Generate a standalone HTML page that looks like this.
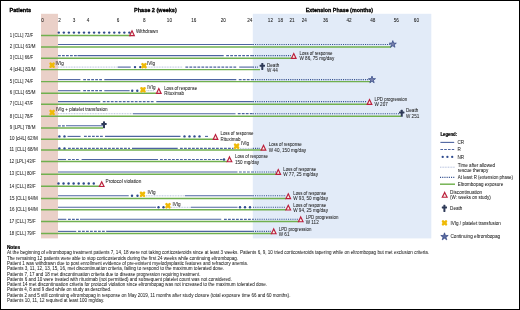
<!DOCTYPE html>
<html><head><meta charset="utf-8"><style>
html,body{margin:0;padding:0;background:#fff;}
svg{display:block;will-change:transform;}
text{font-family:"Liberation Sans",sans-serif;}
</style></head><body>
<svg width="520" height="310" viewBox="0 0 520 310">
<rect x="0" y="0" width="520" height="310" fill="#fff"/>
<rect x="41" y="13.8" width="17" height="224.6" fill="#ead0c8"/>
<rect x="252.8" y="13.8" width="178.5" height="224.6" fill="#e2ebf8"/>
<text x="9.50" y="11.88" font-size="5.7" font-weight="bold" fill="#000" stroke="#000" stroke-width="0.3" textLength="21.6" lengthAdjust="spacingAndGlyphs">Patients</text>
<text x="134.00" y="11.88" font-size="5.7" font-weight="bold" fill="#000" stroke="#000" stroke-width="0.3" textLength="42.8" lengthAdjust="spacingAndGlyphs">Phase 2 (weeks)</text>
<text x="305.80" y="12.28" font-size="5.7" font-weight="bold" fill="#000" stroke="#000" stroke-width="0.3" textLength="67.2" lengthAdjust="spacingAndGlyphs">Extension Phase (months)</text>
<text x="42.50" y="21.74" font-size="4.6" text-anchor="middle" fill="#1c1c1c" stroke="#1c1c1c" stroke-width="0.06">0</text>
<text x="59.60" y="21.74" font-size="4.6" text-anchor="middle" fill="#1c1c1c" stroke="#1c1c1c" stroke-width="0.06">2</text>
<text x="74.00" y="21.74" font-size="4.6" text-anchor="middle" fill="#1c1c1c" stroke="#1c1c1c" stroke-width="0.06">3</text>
<text x="88.00" y="21.74" font-size="4.6" text-anchor="middle" fill="#1c1c1c" stroke="#1c1c1c" stroke-width="0.06">4</text>
<text x="118.00" y="21.74" font-size="4.6" text-anchor="middle" fill="#1c1c1c" stroke="#1c1c1c" stroke-width="0.06">6</text>
<text x="144.40" y="21.74" font-size="4.6" text-anchor="middle" fill="#1c1c1c" stroke="#1c1c1c" stroke-width="0.06">8</text>
<text x="169.40" y="21.74" font-size="4.6" text-anchor="middle" fill="#1c1c1c" stroke="#1c1c1c" stroke-width="0.06">10</text>
<text x="193.80" y="21.74" font-size="4.6" text-anchor="middle" fill="#1c1c1c" stroke="#1c1c1c" stroke-width="0.06">16</text>
<text x="223.30" y="21.74" font-size="4.6" text-anchor="middle" fill="#1c1c1c" stroke="#1c1c1c" stroke-width="0.06">20</text>
<text x="249.80" y="21.74" font-size="4.6" text-anchor="middle" fill="#1c1c1c" stroke="#1c1c1c" stroke-width="0.06">24</text>
<text x="270.40" y="21.74" font-size="4.6" text-anchor="middle" fill="#1c1c1c" stroke="#1c1c1c" stroke-width="0.06">12</text>
<text x="280.40" y="21.74" font-size="4.6" text-anchor="middle" fill="#1c1c1c" stroke="#1c1c1c" stroke-width="0.06">18</text>
<text x="292.10" y="21.74" font-size="4.6" text-anchor="middle" fill="#1c1c1c" stroke="#1c1c1c" stroke-width="0.06">21</text>
<text x="304.30" y="21.74" font-size="4.6" text-anchor="middle" fill="#1c1c1c" stroke="#1c1c1c" stroke-width="0.06">24</text>
<text x="325.60" y="21.74" font-size="4.6" text-anchor="middle" fill="#1c1c1c" stroke="#1c1c1c" stroke-width="0.06">36</text>
<text x="349.00" y="21.74" font-size="4.6" text-anchor="middle" fill="#1c1c1c" stroke="#1c1c1c" stroke-width="0.06">42</text>
<text x="372.80" y="21.74" font-size="4.6" text-anchor="middle" fill="#1c1c1c" stroke="#1c1c1c" stroke-width="0.06">48</text>
<text x="396.20" y="21.74" font-size="4.6" text-anchor="middle" fill="#1c1c1c" stroke="#1c1c1c" stroke-width="0.06">56</text>
<text x="416.40" y="21.74" font-size="4.6" text-anchor="middle" fill="#1c1c1c" stroke="#1c1c1c" stroke-width="0.06">60</text>
<text x="9.80" y="36.68" font-size="4.45" fill="#1c1c1c" stroke="#1c1c1c" stroke-width="0.04" textLength="23.4" lengthAdjust="spacingAndGlyphs">1 [CLL] 72/F</text>
<text x="9.80" y="48.28" font-size="4.45" fill="#1c1c1c" stroke="#1c1c1c" stroke-width="0.04" textLength="25.6" lengthAdjust="spacingAndGlyphs">2 [CLL] 63/M</text>
<text x="9.80" y="59.48" font-size="4.45" fill="#1c1c1c" stroke="#1c1c1c" stroke-width="0.04" textLength="23.4" lengthAdjust="spacingAndGlyphs">3 [CLL] 66/F</text>
<text x="9.80" y="70.88" font-size="4.45" fill="#1c1c1c" stroke="#1c1c1c" stroke-width="0.04" textLength="25.6" lengthAdjust="spacingAndGlyphs">4 [cHL] 83/M</text>
<text x="9.80" y="82.88" font-size="4.45" fill="#1c1c1c" stroke="#1c1c1c" stroke-width="0.04" textLength="23.4" lengthAdjust="spacingAndGlyphs">5 [CLL] 74/F</text>
<text x="9.80" y="94.48" font-size="4.45" fill="#1c1c1c" stroke="#1c1c1c" stroke-width="0.04" textLength="25.6" lengthAdjust="spacingAndGlyphs">6 [CLL] 65/M</text>
<text x="9.80" y="105.48" font-size="4.45" fill="#1c1c1c" stroke="#1c1c1c" stroke-width="0.04" textLength="23.4" lengthAdjust="spacingAndGlyphs">7 [CLL] 47/F</text>
<text x="9.80" y="117.58" font-size="4.45" fill="#1c1c1c" stroke="#1c1c1c" stroke-width="0.04" textLength="23.4" lengthAdjust="spacingAndGlyphs">8 [CLL] 78/F</text>
<text x="9.80" y="129.18" font-size="4.45" fill="#1c1c1c" stroke="#1c1c1c" stroke-width="0.04" textLength="25.6" lengthAdjust="spacingAndGlyphs">9 [LPL] 78/M</text>
<text x="9.40" y="140.48" font-size="4.45" fill="#1c1c1c" stroke="#1c1c1c" stroke-width="0.04" textLength="28.3" lengthAdjust="spacingAndGlyphs">10 [cHL] 62/M</text>
<text x="9.40" y="151.18" font-size="4.45" fill="#1c1c1c" stroke="#1c1c1c" stroke-width="0.04" textLength="28.3" lengthAdjust="spacingAndGlyphs">11 [CLL] 68/M</text>
<text x="9.40" y="162.78" font-size="4.45" fill="#1c1c1c" stroke="#1c1c1c" stroke-width="0.04" textLength="26.2" lengthAdjust="spacingAndGlyphs">12 [LPL] 43/F</text>
<text x="9.40" y="175.48" font-size="4.45" fill="#1c1c1c" stroke="#1c1c1c" stroke-width="0.04" textLength="26.2" lengthAdjust="spacingAndGlyphs">13 [CLL] 80/F</text>
<text x="9.40" y="187.58" font-size="4.45" fill="#1c1c1c" stroke="#1c1c1c" stroke-width="0.04" textLength="26.2" lengthAdjust="spacingAndGlyphs">14 [CLL] 83/F</text>
<text x="9.40" y="199.68" font-size="4.45" fill="#1c1c1c" stroke="#1c1c1c" stroke-width="0.04" textLength="28.3" lengthAdjust="spacingAndGlyphs">15 [CLL] 64/M</text>
<text x="9.40" y="211.08" font-size="4.45" fill="#1c1c1c" stroke="#1c1c1c" stroke-width="0.04" textLength="28.3" lengthAdjust="spacingAndGlyphs">16 [CLL] 64/M</text>
<text x="9.40" y="222.78" font-size="4.45" fill="#1c1c1c" stroke="#1c1c1c" stroke-width="0.04" textLength="26.2" lengthAdjust="spacingAndGlyphs">17 [CLL] 75/F</text>
<text x="9.40" y="234.78" font-size="4.45" fill="#1c1c1c" stroke="#1c1c1c" stroke-width="0.04" textLength="26.2" lengthAdjust="spacingAndGlyphs">18 [CLL] 79/F</text>
<line x1="41" y1="35.4" x2="131" y2="35.4" stroke="#70b04e" stroke-width="1.45"/>
<circle cx="58.80" cy="32.60" r="1.2" fill="#2e4a8e"/>
<circle cx="63.84" cy="32.60" r="1.2" fill="#2e4a8e"/>
<circle cx="68.88" cy="32.60" r="1.2" fill="#2e4a8e"/>
<circle cx="73.92" cy="32.60" r="1.2" fill="#2e4a8e"/>
<circle cx="78.96" cy="32.60" r="1.2" fill="#2e4a8e"/>
<circle cx="84.00" cy="32.60" r="1.2" fill="#2e4a8e"/>
<circle cx="89.04" cy="32.60" r="1.2" fill="#2e4a8e"/>
<circle cx="94.08" cy="32.60" r="1.2" fill="#2e4a8e"/>
<circle cx="99.12" cy="32.60" r="1.2" fill="#2e4a8e"/>
<circle cx="104.16" cy="32.60" r="1.2" fill="#2e4a8e"/>
<circle cx="109.20" cy="32.60" r="1.2" fill="#2e4a8e"/>
<circle cx="114.24" cy="32.60" r="1.2" fill="#2e4a8e"/>
<circle cx="119.28" cy="32.60" r="1.2" fill="#2e4a8e"/>
<circle cx="124.32" cy="32.60" r="1.2" fill="#2e4a8e"/>
<circle cx="129.36" cy="32.60" r="1.2" fill="#2e4a8e"/>
<path d="M132.00 30.82 L134.33 35.62 L129.67 35.62 Z" fill="#f7f1e6" stroke="#bb1f3d" stroke-width="1.15" stroke-linejoin="miter" stroke-miterlimit="10"/>
<text x="135.90" y="33.34" font-size="4.6" fill="#1c1c1c" stroke="#1c1c1c" stroke-width="0.04" textLength="22.2" lengthAdjust="spacingAndGlyphs">Withdrawn</text>
<line x1="41" y1="47" x2="391" y2="47" stroke="#70b04e" stroke-width="1.45"/>
<line x1="58" y1="44.50" x2="252.8" y2="44.50" stroke="#4d64a0" stroke-width="1.1"/>
<line x1="252.8" y1="44.50" x2="390" y2="44.50" stroke="#34508f" stroke-width="1.1" stroke-dasharray="1.1 1.1"/>
<polygon points="392.80,40.60 393.67,43.10 396.32,43.16 394.21,44.76 394.97,47.29 392.80,45.78 390.63,47.29 391.39,44.76 389.28,43.16 391.93,43.10" fill="#7680ac" stroke="#2f4482" stroke-width="0.7" stroke-linejoin="miter"/>
<line x1="41" y1="58.2" x2="292" y2="58.2" stroke="#70b04e" stroke-width="1.45"/>
<line x1="58" y1="55.60" x2="77.5" y2="55.60" stroke="#4d64a0" stroke-width="1.2" stroke-dasharray="2.8 1.2"/>
<line x1="77.5" y1="55.60" x2="223.7" y2="55.60" stroke="#4d64a0" stroke-width="1.1"/>
<line x1="226.2" y1="55.60" x2="252.8" y2="55.60" stroke="#4d64a0" stroke-width="1.2" stroke-dasharray="2.8 1.2"/>
<line x1="252.8" y1="55.60" x2="291" y2="55.60" stroke="#34508f" stroke-width="1.1" stroke-dasharray="1.1 1.1"/>
<path d="M293.75 53.62 L296.08 58.42 L291.42 58.42 Z" fill="#f7f1e6" stroke="#bb1f3d" stroke-width="1.15" stroke-linejoin="miter" stroke-miterlimit="10"/>
<text x="299.50" y="54.84" font-size="4.6" fill="#1c1c1c" stroke="#1c1c1c" stroke-width="0.04" textLength="33.0" lengthAdjust="spacingAndGlyphs">Loss of response</text>
<text x="299.50" y="60.09" font-size="4.6" fill="#1c1c1c" stroke="#1c1c1c" stroke-width="0.04">W 86, 75 mg/day</text>
<line x1="41" y1="69.6" x2="260" y2="69.6" stroke="#70b04e" stroke-width="1.45"/>
<line x1="58" y1="67.10" x2="117.8" y2="67.10" stroke="#b5c0dd" stroke-width="1.0" stroke-dasharray="1 0.6"/>
<line x1="117.8" y1="67.10" x2="130.8" y2="67.10" stroke="#4d64a0" stroke-width="1.1"/>
<circle cx="135.00" cy="67.10" r="1.2" fill="#2e4a8e"/>
<circle cx="140.30" cy="67.10" r="1.2" fill="#2e4a8e"/>
<line x1="146" y1="67.10" x2="182.5" y2="67.10" stroke="#b5c0dd" stroke-width="1.0" stroke-dasharray="1 0.6"/>
<line x1="185.4" y1="67.10" x2="237.3" y2="67.10" stroke="#4d64a0" stroke-width="1.2" stroke-dasharray="2.8 1.2"/>
<line x1="239.2" y1="67.10" x2="252.8" y2="67.10" stroke="#4d64a0" stroke-width="1.1"/>
<line x1="252.8" y1="67.10" x2="258" y2="67.10" stroke="#34508f" stroke-width="1.1" stroke-dasharray="1.1 1.1"/>
<g stroke="#efba08" stroke-width="2.5" stroke-linecap="round"><line x1="50.55" y1="63.65" x2="53.65" y2="66.75"/><line x1="50.55" y1="66.75" x2="53.65" y2="63.65"/></g>
<text x="55.60" y="65.14" font-size="4.6" fill="#1c1c1c" stroke="#1c1c1c" stroke-width="0.04">IVIg</text>
<g stroke="#efba08" stroke-width="2.5" stroke-linecap="round"><line x1="142.45" y1="64.15" x2="145.55" y2="67.25"/><line x1="142.45" y1="67.25" x2="145.55" y2="64.15"/></g>
<text x="147.00" y="65.14" font-size="4.6" fill="#1c1c1c" stroke="#1c1c1c" stroke-width="0.04">IVIg</text>
<g fill="#2e3a58"><rect x="261.30" y="63.00" width="2.0" height="7.00" rx="0.4"/><rect x="259.60" y="64.68" width="5.40" height="2.0" rx="0.4"/></g>
<text x="267.00" y="66.64" font-size="4.6" fill="#1c1c1c" stroke="#1c1c1c" stroke-width="0.04">Death</text>
<text x="267.00" y="71.64" font-size="4.6" fill="#1c1c1c" stroke="#1c1c1c" stroke-width="0.04">W 44</text>
<line x1="41" y1="81.6" x2="371" y2="81.6" stroke="#70b04e" stroke-width="1.45"/>
<line x1="58" y1="79.60" x2="80.4" y2="79.60" stroke="#4d64a0" stroke-width="1.1"/>
<line x1="83.2" y1="79.60" x2="102.6" y2="79.60" stroke="#4d64a0" stroke-width="1.2" stroke-dasharray="2.8 1.2"/>
<line x1="104.3" y1="79.60" x2="236.3" y2="79.60" stroke="#4d64a0" stroke-width="1.1"/>
<line x1="238.8" y1="79.60" x2="252.8" y2="79.60" stroke="#4d64a0" stroke-width="1.2" stroke-dasharray="2.8 1.2"/>
<line x1="252.8" y1="79.60" x2="369" y2="79.60" stroke="#34508f" stroke-width="1.1" stroke-dasharray="1.1 1.1"/>
<polygon points="372.00,76.10 372.87,78.60 375.52,78.66 373.41,80.26 374.17,82.79 372.00,81.28 369.83,82.79 370.59,80.26 368.48,78.66 371.13,78.60" fill="#7680ac" stroke="#2f4482" stroke-width="0.7" stroke-linejoin="miter"/>
<line x1="41" y1="93.2" x2="156" y2="93.2" stroke="#70b04e" stroke-width="1.45"/>
<line x1="58" y1="90.70" x2="80.4" y2="90.70" stroke="#4d64a0" stroke-width="1.1"/>
<line x1="83.2" y1="90.70" x2="102.6" y2="90.70" stroke="#4d64a0" stroke-width="1.2" stroke-dasharray="2.8 1.2"/>
<line x1="104.3" y1="90.70" x2="129.6" y2="90.70" stroke="#4d64a0" stroke-width="1.1"/>
<circle cx="132.20" cy="90.70" r="1.2" fill="#2e4a8e"/>
<circle cx="137.30" cy="90.70" r="1.2" fill="#2e4a8e"/>
<line x1="146.5" y1="90.70" x2="154.2" y2="90.70" stroke="#b5c0dd" stroke-width="1.0" stroke-dasharray="1 0.6"/>
<g stroke="#efba08" stroke-width="2.5" stroke-linecap="round"><line x1="141.45" y1="88.25" x2="144.55" y2="91.35"/><line x1="141.45" y1="91.35" x2="144.55" y2="88.25"/></g>
<text x="147.30" y="88.84" font-size="4.6" fill="#1c1c1c" stroke="#1c1c1c" stroke-width="0.04">IVIg</text>
<path d="M158.80 88.62 L161.13 93.42 L156.47 93.42 Z" fill="#f7f1e6" stroke="#bb1f3d" stroke-width="1.15" stroke-linejoin="miter" stroke-miterlimit="10"/>
<text x="164.20" y="89.64" font-size="4.6" fill="#1c1c1c" stroke="#1c1c1c" stroke-width="0.04" textLength="33.0" lengthAdjust="spacingAndGlyphs">Loss of response</text>
<text x="164.20" y="95.04" font-size="4.6" fill="#1c1c1c" stroke="#1c1c1c" stroke-width="0.04" textLength="19.9" lengthAdjust="spacingAndGlyphs">Rituximab</text>
<line x1="41" y1="104.2" x2="368" y2="104.2" stroke="#70b04e" stroke-width="1.45"/>
<line x1="58" y1="101.60" x2="100.3" y2="101.60" stroke="#4d64a0" stroke-width="1.1"/>
<line x1="102.8" y1="101.60" x2="154.8" y2="101.60" stroke="#4d64a0" stroke-width="1.2" stroke-dasharray="2.8 1.2"/>
<line x1="156.3" y1="101.60" x2="252.8" y2="101.60" stroke="#4d64a0" stroke-width="1.1"/>
<line x1="252.8" y1="101.60" x2="367" y2="101.60" stroke="#34508f" stroke-width="1.1" stroke-dasharray="1.1 1.1"/>
<path d="M369.50 99.62 L371.83 104.42 L367.17 104.42 Z" fill="#f7f1e6" stroke="#bb1f3d" stroke-width="1.15" stroke-linejoin="miter" stroke-miterlimit="10"/>
<text x="374.50" y="101.34" font-size="4.6" fill="#1c1c1c" stroke="#1c1c1c" stroke-width="0.04" textLength="32.6" lengthAdjust="spacingAndGlyphs">LPD progression</text>
<text x="374.50" y="106.34" font-size="4.6" fill="#1c1c1c" stroke="#1c1c1c" stroke-width="0.04">W 207</text>
<line x1="41" y1="116.3" x2="401" y2="116.3" stroke="#70b04e" stroke-width="1.45"/>
<line x1="58" y1="113.70" x2="132.5" y2="113.70" stroke="#b5c0dd" stroke-width="1.0" stroke-dasharray="1 0.6"/>
<line x1="133" y1="113.70" x2="235.5" y2="113.70" stroke="#4d64a0" stroke-width="1.1"/>
<line x1="237.8" y1="113.70" x2="252.8" y2="113.70" stroke="#4d64a0" stroke-width="1.2" stroke-dasharray="2.8 1.2"/>
<line x1="252.8" y1="113.70" x2="399" y2="113.70" stroke="#34508f" stroke-width="1.1" stroke-dasharray="1.1 1.1"/>
<g stroke="#efba08" stroke-width="2.5" stroke-linecap="round"><line x1="50.55" y1="110.95" x2="53.65" y2="114.05"/><line x1="50.55" y1="114.05" x2="53.65" y2="110.95"/></g>
<text x="55.90" y="111.34" font-size="4.6" fill="#1c1c1c" stroke="#1c1c1c" stroke-width="0.04" textLength="51.7" lengthAdjust="spacingAndGlyphs">IVIg + platelet transfusion</text>
<g fill="#2e3a58"><rect x="400.75" y="109.80" width="2.0" height="7.00" rx="0.4"/><rect x="399.05" y="111.48" width="5.40" height="2.0" rx="0.4"/></g>
<text x="406.00" y="112.34" font-size="4.6" fill="#1c1c1c" stroke="#1c1c1c" stroke-width="0.04">Death</text>
<text x="406.00" y="117.84" font-size="4.6" fill="#1c1c1c" stroke="#1c1c1c" stroke-width="0.04">W 251</text>
<line x1="41" y1="127.9" x2="103" y2="127.9" stroke="#70b04e" stroke-width="1.45"/>
<line x1="58" y1="125.80" x2="65.8" y2="125.80" stroke="#4d64a0" stroke-width="1.2" stroke-dasharray="2.8 1.2"/>
<line x1="66" y1="125.80" x2="103" y2="125.80" stroke="#4d64a0" stroke-width="1.1"/>
<g fill="#2e3a58"><rect x="103.00" y="121.30" width="2.0" height="6.90" rx="0.4"/><rect x="101.30" y="122.96" width="5.40" height="2.0" rx="0.4"/></g>
<line x1="41" y1="139.2" x2="213" y2="139.2" stroke="#70b04e" stroke-width="1.45"/>
<circle cx="59.40" cy="136.40" r="1.2" fill="#2e4a8e"/>
<circle cx="64.50" cy="136.40" r="1.2" fill="#2e4a8e"/>
<line x1="67.5" y1="136.40" x2="80.6" y2="136.40" stroke="#4d64a0" stroke-width="1.1"/>
<line x1="84" y1="136.40" x2="103" y2="136.40" stroke="#4d64a0" stroke-width="1.2" stroke-dasharray="2.8 1.2"/>
<line x1="105" y1="136.40" x2="180.5" y2="136.40" stroke="#4d64a0" stroke-width="1.1"/>
<circle cx="184.50" cy="136.40" r="1.2" fill="#2e4a8e"/>
<circle cx="189.50" cy="136.40" r="1.2" fill="#2e4a8e"/>
<circle cx="194.50" cy="136.40" r="1.2" fill="#2e4a8e"/>
<circle cx="199.50" cy="136.40" r="1.2" fill="#2e4a8e"/>
<line x1="205" y1="136.40" x2="208" y2="136.40" stroke="#4d64a0" stroke-width="1.1"/>
<path d="M215.50 134.62 L217.83 139.43 L213.17 139.43 Z" fill="#f7f1e6" stroke="#bb1f3d" stroke-width="1.15" stroke-linejoin="miter" stroke-miterlimit="10"/>
<text x="220.50" y="135.09" font-size="4.6" fill="#1c1c1c" stroke="#1c1c1c" stroke-width="0.04" textLength="33.0" lengthAdjust="spacingAndGlyphs">Loss of response</text>
<text x="220.50" y="140.59" font-size="4.6" fill="#1c1c1c" stroke="#1c1c1c" stroke-width="0.04" textLength="19.9" lengthAdjust="spacingAndGlyphs">Rituximab</text>
<line x1="41" y1="149.9" x2="262" y2="149.9" stroke="#70b04e" stroke-width="1.45"/>
<circle cx="59.40" cy="148.40" r="1.2" fill="#2e4a8e"/>
<circle cx="64.50" cy="148.40" r="1.2" fill="#2e4a8e"/>
<line x1="68" y1="148.40" x2="130" y2="148.40" stroke="#4d64a0" stroke-width="1.2" stroke-dasharray="2.8 1.2"/>
<line x1="132" y1="148.40" x2="177.7" y2="148.40" stroke="#4d64a0" stroke-width="1.1"/>
<line x1="180" y1="148.40" x2="233.5" y2="148.40" stroke="#4d64a0" stroke-width="1.2" stroke-dasharray="2.8 1.2"/>
<line x1="240" y1="148.40" x2="252.8" y2="148.40" stroke="#b5c0dd" stroke-width="1.0" stroke-dasharray="1 0.6"/>
<line x1="252.8" y1="148.40" x2="260" y2="148.40" stroke="#34508f" stroke-width="1.1" stroke-dasharray="1.1 1.1"/>
<g stroke="#efba08" stroke-width="2.5" stroke-linecap="round"><line x1="235.05" y1="144.65" x2="238.15" y2="147.75"/><line x1="235.05" y1="147.75" x2="238.15" y2="144.65"/></g>
<text x="241.00" y="145.09" font-size="4.6" fill="#1c1c1c" stroke="#1c1c1c" stroke-width="0.04">IVIg</text>
<path d="M263.50 145.32 L265.83 150.13 L261.17 150.13 Z" fill="#f7f1e6" stroke="#bb1f3d" stroke-width="1.15" stroke-linejoin="miter" stroke-miterlimit="10"/>
<text x="268.75" y="146.34" font-size="4.6" fill="#1c1c1c" stroke="#1c1c1c" stroke-width="0.04" textLength="33.0" lengthAdjust="spacingAndGlyphs">Loss of response</text>
<text x="268.75" y="151.84" font-size="4.6" fill="#1c1c1c" stroke="#1c1c1c" stroke-width="0.04">W 40, 150 mg/day</text>
<line x1="41" y1="161.5" x2="227" y2="161.5" stroke="#70b04e" stroke-width="1.45"/>
<line x1="58" y1="159.50" x2="66" y2="159.50" stroke="#4d64a0" stroke-width="1.1"/>
<line x1="68" y1="159.50" x2="80" y2="159.50" stroke="#4d64a0" stroke-width="1.2" stroke-dasharray="2.8 1.2"/>
<line x1="81.6" y1="159.50" x2="158" y2="159.50" stroke="#4d64a0" stroke-width="1.1"/>
<line x1="160" y1="159.50" x2="222.5" y2="159.50" stroke="#4d64a0" stroke-width="1.2" stroke-dasharray="2.8 1.2"/>
<circle cx="224.00" cy="159.50" r="1.2" fill="#2e4a8e"/>
<path d="M229.50 156.92 L231.83 161.73 L227.17 161.73 Z" fill="#f7f1e6" stroke="#bb1f3d" stroke-width="1.15" stroke-linejoin="miter" stroke-miterlimit="10"/>
<text x="235.00" y="158.09" font-size="4.6" fill="#1c1c1c" stroke="#1c1c1c" stroke-width="0.04" textLength="33.0" lengthAdjust="spacingAndGlyphs">Loss of response</text>
<text x="235.00" y="163.59" font-size="4.6" fill="#1c1c1c" stroke="#1c1c1c" stroke-width="0.04">150 mg/day</text>
<line x1="41" y1="174.2" x2="277" y2="174.2" stroke="#70b04e" stroke-width="1.45"/>
<line x1="58" y1="172.00" x2="237.5" y2="172.00" stroke="#4d64a0" stroke-width="1.1"/>
<line x1="239" y1="172.00" x2="252.8" y2="172.00" stroke="#4d64a0" stroke-width="1.2" stroke-dasharray="2.8 1.2"/>
<line x1="252.8" y1="172.00" x2="276" y2="172.00" stroke="#34508f" stroke-width="1.1" stroke-dasharray="1.1 1.1"/>
<path d="M278.25 169.62 L280.58 174.43 L275.92 174.43 Z" fill="#f7f1e6" stroke="#bb1f3d" stroke-width="1.15" stroke-linejoin="miter" stroke-miterlimit="10"/>
<text x="283.25" y="171.09" font-size="4.6" fill="#1c1c1c" stroke="#1c1c1c" stroke-width="0.04" textLength="33.0" lengthAdjust="spacingAndGlyphs">Loss of response</text>
<text x="283.25" y="176.34" font-size="4.6" fill="#1c1c1c" stroke="#1c1c1c" stroke-width="0.04">W 77, 25 mg/day</text>
<line x1="41" y1="186.3" x2="99.1" y2="186.3" stroke="#70b04e" stroke-width="1.45"/>
<circle cx="58.50" cy="183.50" r="1.2" fill="#2e4a8e"/>
<circle cx="63.54" cy="183.50" r="1.2" fill="#2e4a8e"/>
<circle cx="68.58" cy="183.50" r="1.2" fill="#2e4a8e"/>
<circle cx="73.62" cy="183.50" r="1.2" fill="#2e4a8e"/>
<circle cx="78.66" cy="183.50" r="1.2" fill="#2e4a8e"/>
<circle cx="83.70" cy="183.50" r="1.2" fill="#2e4a8e"/>
<circle cx="88.74" cy="183.50" r="1.2" fill="#2e4a8e"/>
<circle cx="93.78" cy="183.50" r="1.2" fill="#2e4a8e"/>
<path d="M101.70 181.72 L104.03 186.53 L99.37 186.53 Z" fill="#f7f1e6" stroke="#bb1f3d" stroke-width="1.15" stroke-linejoin="miter" stroke-miterlimit="10"/>
<text x="105.50" y="183.44" font-size="4.6" fill="#1c1c1c" stroke="#1c1c1c" stroke-width="0.04" textLength="35.8" lengthAdjust="spacingAndGlyphs">Protocol violation</text>
<line x1="41" y1="198.4" x2="286" y2="198.4" stroke="#70b04e" stroke-width="1.45"/>
<line x1="58" y1="195.80" x2="128.75" y2="195.80" stroke="#4d64a0" stroke-width="1.1"/>
<circle cx="132.00" cy="195.80" r="1.2" fill="#2e4a8e"/>
<circle cx="137.50" cy="195.80" r="1.2" fill="#2e4a8e"/>
<g stroke="#efba08" stroke-width="2.5" stroke-linecap="round"><line x1="140.95" y1="192.75" x2="144.05" y2="195.85"/><line x1="140.95" y1="195.85" x2="144.05" y2="192.75"/></g>
<text x="147.50" y="193.84" font-size="4.6" fill="#1c1c1c" stroke="#1c1c1c" stroke-width="0.04">IVIg</text>
<line x1="146" y1="195.80" x2="185" y2="195.80" stroke="#b5c0dd" stroke-width="1.0" stroke-dasharray="1 0.6"/>
<line x1="185" y1="195.80" x2="252.8" y2="195.80" stroke="#4d64a0" stroke-width="1.1"/>
<line x1="252.8" y1="195.80" x2="286" y2="195.80" stroke="#34508f" stroke-width="1.1" stroke-dasharray="1.1 1.1"/>
<path d="M288.25 193.82 L290.58 198.63 L285.92 198.63 Z" fill="#f7f1e6" stroke="#bb1f3d" stroke-width="1.15" stroke-linejoin="miter" stroke-miterlimit="10"/>
<text x="293.25" y="194.84" font-size="4.6" fill="#1c1c1c" stroke="#1c1c1c" stroke-width="0.04" textLength="33.0" lengthAdjust="spacingAndGlyphs">Loss of response</text>
<text x="293.25" y="200.09" font-size="4.6" fill="#1c1c1c" stroke="#1c1c1c" stroke-width="0.04">W 93, 50 mg/day</text>
<line x1="41" y1="209.8" x2="286" y2="209.8" stroke="#70b04e" stroke-width="1.45"/>
<line x1="58" y1="207.30" x2="156" y2="207.30" stroke="#4d64a0" stroke-width="1.1"/>
<circle cx="158.50" cy="207.30" r="1.2" fill="#2e4a8e"/>
<circle cx="163.50" cy="207.30" r="1.2" fill="#2e4a8e"/>
<g stroke="#efba08" stroke-width="2.5" stroke-linecap="round"><line x1="166.45" y1="204.20" x2="169.55" y2="207.30"/><line x1="166.45" y1="207.30" x2="169.55" y2="204.20"/></g>
<text x="172.50" y="205.59" font-size="4.6" fill="#1c1c1c" stroke="#1c1c1c" stroke-width="0.04">IVIg</text>
<line x1="171" y1="207.30" x2="191" y2="207.30" stroke="#b5c0dd" stroke-width="1.0" stroke-dasharray="1 0.6"/>
<line x1="191" y1="207.30" x2="237.5" y2="207.30" stroke="#4d64a0" stroke-width="1.1"/>
<circle cx="240.00" cy="207.30" r="1.2" fill="#2e4a8e"/>
<circle cx="245.00" cy="207.30" r="1.2" fill="#2e4a8e"/>
<circle cx="250.00" cy="207.30" r="1.2" fill="#2e4a8e"/>
<line x1="253" y1="207.30" x2="286" y2="207.30" stroke="#34508f" stroke-width="1.1" stroke-dasharray="1.1 1.1"/>
<path d="M288.25 205.22 L290.58 210.03 L285.92 210.03 Z" fill="#f7f1e6" stroke="#bb1f3d" stroke-width="1.15" stroke-linejoin="miter" stroke-miterlimit="10"/>
<text x="293.25" y="206.84" font-size="4.6" fill="#1c1c1c" stroke="#1c1c1c" stroke-width="0.04" textLength="33.0" lengthAdjust="spacingAndGlyphs">Loss of response</text>
<text x="293.25" y="211.84" font-size="4.6" fill="#1c1c1c" stroke="#1c1c1c" stroke-width="0.04">W 94, 25 mg/day</text>
<line x1="41" y1="221.5" x2="299" y2="221.5" stroke="#70b04e" stroke-width="1.45"/>
<line x1="58" y1="219.30" x2="66.25" y2="219.30" stroke="#4d64a0" stroke-width="1.1"/>
<line x1="68" y1="219.30" x2="79.5" y2="219.30" stroke="#4d64a0" stroke-width="1.2" stroke-dasharray="2.8 1.2"/>
<line x1="80" y1="219.30" x2="221.25" y2="219.30" stroke="#4d64a0" stroke-width="1.1"/>
<line x1="224" y1="219.30" x2="252.8" y2="219.30" stroke="#4d64a0" stroke-width="1.2" stroke-dasharray="2.8 1.2"/>
<line x1="252.8" y1="219.30" x2="298" y2="219.30" stroke="#34508f" stroke-width="1.1" stroke-dasharray="1.1 1.1"/>
<path d="M300.75 216.92 L303.08 221.73 L298.42 221.73 Z" fill="#f7f1e6" stroke="#bb1f3d" stroke-width="1.15" stroke-linejoin="miter" stroke-miterlimit="10"/>
<text x="305.75" y="218.59" font-size="4.6" fill="#1c1c1c" stroke="#1c1c1c" stroke-width="0.04" textLength="32.6" lengthAdjust="spacingAndGlyphs">LPD progression</text>
<text x="305.75" y="223.59" font-size="4.6" fill="#1c1c1c" stroke="#1c1c1c" stroke-width="0.04">W 112</text>
<line x1="41" y1="233.5" x2="272" y2="233.5" stroke="#70b04e" stroke-width="1.45"/>
<line x1="58" y1="231.40" x2="76.25" y2="231.40" stroke="#4d64a0" stroke-width="1.1"/>
<line x1="78" y1="231.40" x2="106.25" y2="231.40" stroke="#4d64a0" stroke-width="1.2" stroke-dasharray="2.8 1.2"/>
<line x1="106.25" y1="231.40" x2="252.8" y2="231.40" stroke="#4d64a0" stroke-width="1.1"/>
<line x1="252.8" y1="231.40" x2="271" y2="231.40" stroke="#34508f" stroke-width="1.1" stroke-dasharray="1.1 1.1"/>
<path d="M273.75 228.92 L276.08 233.73 L271.42 233.73 Z" fill="#f7f1e6" stroke="#bb1f3d" stroke-width="1.15" stroke-linejoin="miter" stroke-miterlimit="10"/>
<text x="278.75" y="230.59" font-size="4.6" fill="#1c1c1c" stroke="#1c1c1c" stroke-width="0.04" textLength="32.6" lengthAdjust="spacingAndGlyphs">LPD progression</text>
<text x="278.75" y="236.09" font-size="4.6" fill="#1c1c1c" stroke="#1c1c1c" stroke-width="0.04">W 61</text>
<text x="440.40" y="136.30" font-size="4.5" font-weight="bold" fill="#000" stroke="#000" stroke-width="0.2" textLength="16.7" lengthAdjust="spacingAndGlyphs">Legend:</text>
<line x1="440.4" y1="142.4" x2="454.2" y2="142.4" stroke="#4d64a0" stroke-width="1.1"/>
<text x="457.50" y="144.24" font-size="4.6" fill="#1c1c1c" stroke="#1c1c1c" stroke-width="0.04">CR</text>
<line x1="440.4" y1="149.5" x2="454.2" y2="149.5" stroke="#4d64a0" stroke-width="1.2" stroke-dasharray="2.6 1.2"/>
<text x="457.50" y="151.34" font-size="4.6" fill="#1c1c1c" stroke="#1c1c1c" stroke-width="0.04">R</text>
<circle cx="442.7" cy="156.9" r="1.15" fill="#2e4a8e"/>
<circle cx="447.4" cy="156.9" r="1.15" fill="#2e4a8e"/>
<circle cx="452.2" cy="156.9" r="1.15" fill="#2e4a8e"/>
<text x="457.50" y="158.74" font-size="4.6" fill="#1c1c1c" stroke="#1c1c1c" stroke-width="0.04">NR</text>
<line x1="440" y1="167.2" x2="455" y2="167.2" stroke="#b5c0dd" stroke-width="1.0" stroke-dasharray="1 0.6"/>
<text x="457.80" y="166.64" font-size="4.6" fill="#1c1c1c" stroke="#1c1c1c" stroke-width="0.04" textLength="37.3" lengthAdjust="spacingAndGlyphs">Time after allowed</text>
<text x="457.80" y="171.64" font-size="4.6" fill="#1c1c1c" stroke="#1c1c1c" stroke-width="0.04">rescue therapy</text>
<line x1="440" y1="177.4" x2="455" y2="177.4" stroke="#34508f" stroke-width="1.1" stroke-dasharray="1.1 1.1"/>
<text x="457.80" y="179.24" font-size="4.6" fill="#1c1c1c" stroke="#1c1c1c" stroke-width="0.04" textLength="55.2" lengthAdjust="spacingAndGlyphs">At least R (extension phase)</text>
<line x1="440" y1="184.2" x2="455" y2="184.2" stroke="#70b04e" stroke-width="1.45"/>
<text x="457.80" y="186.04" font-size="4.6" fill="#1c1c1c" stroke="#1c1c1c" stroke-width="0.04" textLength="45.5" lengthAdjust="spacingAndGlyphs">Eltrombopag exposure</text>
<path d="M444.70 192.39 L447.12 197.23 L442.28 197.23 Z" fill="#f7f1e6" stroke="#bb1f3d" stroke-width="1.15" stroke-linejoin="miter" stroke-miterlimit="10"/>
<text x="450.10" y="193.54" font-size="4.6" fill="#1c1c1c" stroke="#1c1c1c" stroke-width="0.04" textLength="32.0" lengthAdjust="spacingAndGlyphs">Discontinuation</text>
<text x="450.10" y="199.04" font-size="4.6" fill="#1c1c1c" stroke="#1c1c1c" stroke-width="0.04" textLength="40.7" lengthAdjust="spacingAndGlyphs">(W: weeks on study)</text>
<g fill="#2e3a58"><rect x="443.40" y="204.70" width="2.0" height="7.20" rx="0.4"/><rect x="441.80" y="206.43" width="5.20" height="2.0" rx="0.4"/></g>
<text x="450.10" y="209.64" font-size="4.6" fill="#1c1c1c" stroke="#1c1c1c" stroke-width="0.04">Death</text>
<g stroke="#efba08" stroke-width="2.5" stroke-linecap="round"><line x1="443.00" y1="221.40" x2="446.00" y2="224.40"/><line x1="443.00" y1="224.40" x2="446.00" y2="221.40"/></g>
<text x="450.40" y="224.64" font-size="4.6" fill="#1c1c1c" stroke="#1c1c1c" stroke-width="0.04" textLength="50.5" lengthAdjust="spacingAndGlyphs">IVIg / platelet transfusion</text>
<polygon points="444.50,232.80 445.42,235.44 448.21,235.49 445.98,237.18 446.79,239.86 444.50,238.26 442.21,239.86 443.02,237.18 440.79,235.49 443.58,235.44" fill="#5a6aa0" stroke="#2f4482" stroke-width="0.7" stroke-linejoin="miter"/>
<text x="450.40" y="237.94" font-size="4.6" fill="#1c1c1c" stroke="#1c1c1c" stroke-width="0.04" textLength="49.8" lengthAdjust="spacingAndGlyphs">Continuing eltrombopag</text>
<text x="6.90" y="249.18" font-size="4.7" font-weight="bold" fill="#000" stroke="#000" stroke-width="0.2" textLength="13.2" lengthAdjust="spacingAndGlyphs">Notes</text>
<text x="7.00" y="254.34" font-size="4.6" fill="#1c1c1c" stroke="#1c1c1c" stroke-width="0.03" textLength="422.15" lengthAdjust="spacingAndGlyphs">At the beginning of eltrombopag treatment patients 7, 14, 18 were not taking corticosteroids since at least 3 weeks. Patients 6, 9, 10 tried corticosteroids tapering while on eltrombopag but met exclusion criteria.</text>
<text x="7.00" y="259.64" font-size="4.6" fill="#1c1c1c" stroke="#1c1c1c" stroke-width="0.03" textLength="231.1" lengthAdjust="spacingAndGlyphs">The remaining 12 patients were able to stop corticosteroids during the first 24 weeks while continuing eltrombopag.</text>
<text x="7.00" y="264.94" font-size="4.6" fill="#1c1c1c" stroke="#1c1c1c" stroke-width="0.03" textLength="241.1" lengthAdjust="spacingAndGlyphs">Patient 1 was withdrawn due to post enrollment evidence of pre-existent myelodysplastic features and refractory anemia.</text>
<text x="7.00" y="270.24" font-size="4.6" fill="#1c1c1c" stroke="#1c1c1c" stroke-width="0.03" textLength="217.0" lengthAdjust="spacingAndGlyphs">Patients 3, 11, 12, 13, 15, 16, met discontinuation criteria, failing to respond to the maximum tolerated dose.</text>
<text x="7.00" y="275.54" font-size="4.6" fill="#1c1c1c" stroke="#1c1c1c" stroke-width="0.03" textLength="193.4" lengthAdjust="spacingAndGlyphs">Patients 7, 17 and 18 met discontinuation criteria due to disease progression requiring treatment.</text>
<text x="7.00" y="280.84" font-size="4.6" fill="#1c1c1c" stroke="#1c1c1c" stroke-width="0.03" textLength="224.9" lengthAdjust="spacingAndGlyphs">Patients 6 and 10 were treated with rituximab (not permitted) and subsequent platelet count was not considered.</text>
<text x="7.00" y="286.14" font-size="4.6" fill="#1c1c1c" stroke="#1c1c1c" stroke-width="0.03" textLength="260.15" lengthAdjust="spacingAndGlyphs">Patient 14 met discontinuation criteria for protocol violation since eltrombopag was not increased to the maximum tolerated dose.</text>
<text x="7.00" y="291.44" font-size="4.6" fill="#1c1c1c" stroke="#1c1c1c" stroke-width="0.03" textLength="104.2" lengthAdjust="spacingAndGlyphs">Patients 4, 8 and 9 died while on study as described.</text>
<text x="7.00" y="296.74" font-size="4.6" fill="#1c1c1c" stroke="#1c1c1c" stroke-width="0.03" textLength="283.4" lengthAdjust="spacingAndGlyphs">Patients 2 and 5 still continuing eltrombopag in response on May 2019, 11 months after study closure (total exposure time 66 and 60 months).</text>
<text x="7.00" y="302.04" font-size="4.6" fill="#1c1c1c" stroke="#1c1c1c" stroke-width="0.03" textLength="97.2" lengthAdjust="spacingAndGlyphs">Patients 10, 11, 12 required at least 100 mg/day.</text>
<rect x="0.5" y="0.5" width="519" height="309" fill="none" stroke="#000" stroke-width="1"/>
</svg>
</body></html>
